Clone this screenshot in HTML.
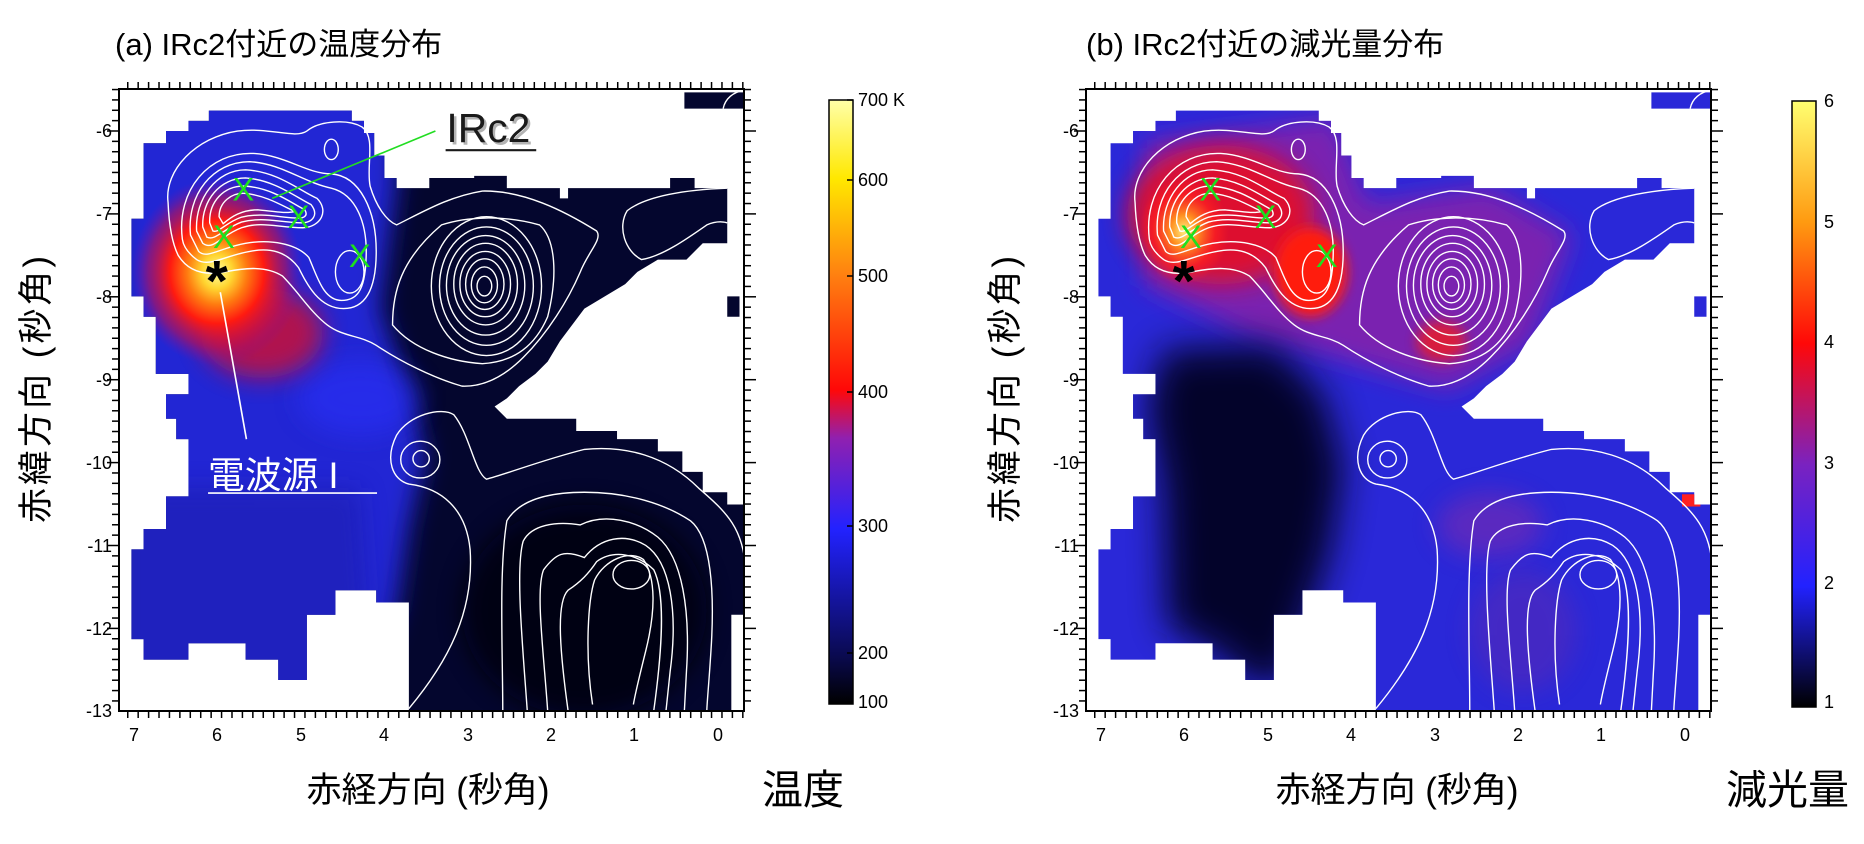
<!DOCTYPE html>
<html><head><meta charset="utf-8"><style>
html,body{margin:0;padding:0;background:#fff;}
svg{display:block;}
text{font-family:"Liberation Sans","Noto Sans CJK JP",sans-serif;}
</style></head><body>
<svg id="s" width="1864" height="844" viewBox="0 0 1864 844" xmlns="http://www.w3.org/2000/svg">
<defs>
<clipPath id="mask"><polygon points="70,155 125,155 125,125 180,125 180,100 230,100 230,75 580,75 580,100 610,100 610,130 635,130 635,185 660,185 660,240 690,240 690,265 770,265 770,240 880,240 880,235 960,235 960,265 1090,265 1090,290 1110,290 1110,265 1360,265 1360,240 1420,240 1420,265 1500,265 1500,400 1440,400 1400,440 1330,440 1280,470 1250,500 1200,530 1150,560 1120,600 1090,640 1060,690 1030,720 990,750 960,780 930,800 960,830 1130,830 1130,860 1230,860 1230,880 1330,880 1330,910 1390,910 1390,960 1440,960 1440,1010 1500,1010 1500,1040 1540,1040 1540,1310 1510,1310 1510,1545 720,1545 720,1280 640,1280 640,1250 540,1250 540,1310 470,1310 470,1470 400,1470 400,1420 320,1420 320,1380 180,1380 180,1420 70,1420 70,1370 40,1370 40,1150 70,1150 70,1100 125,1100 125,1020 180,1020 180,880 150,880 150,830 125,830 125,770 180,770 180,720 100,720 100,580 70,580 70,530 40,530 40,340 70,340"/>
<rect x="1395" y="30" width="145" height="40"/><rect x="1500" y="530" width="30" height="50"/></clipPath>
<filter id="b30" x="-50%" y="-50%" width="200%" height="200%"><feGaussianBlur stdDeviation="30"/></filter>
<filter id="b45" x="-50%" y="-50%" width="200%" height="200%"><feGaussianBlur stdDeviation="45"/></filter>
<filter id="b15" x="-50%" y="-50%" width="200%" height="200%"><feGaussianBlur stdDeviation="15"/></filter>
<radialGradient id="hot" cx="0.5" cy="0.5" r="0.5">
<stop offset="0" stop-color="#ffffa0"/><stop offset="0.18" stop-color="#ffd530"/><stop offset="0.35" stop-color="#ff7a10"/><stop offset="0.55" stop-color="#ff1a10"/><stop offset="0.8" stop-color="#c01050" stop-opacity="0.6"/><stop offset="1" stop-color="#8010a0" stop-opacity="0"/></radialGradient>
<radialGradient id="hotb" cx="0.5" cy="0.5" r="0.5">
<stop offset="0" stop-color="#ffee80"/><stop offset="0.3" stop-color="#ff9020"/><stop offset="0.7" stop-color="#ff2020" stop-opacity="0.7"/><stop offset="1" stop-color="#ff2020" stop-opacity="0"/></radialGradient>
<linearGradient id="cba" x1="0" y1="1" x2="0" y2="0">
<stop offset="0" stop-color="#000000"/><stop offset="0.08" stop-color="#0a0a50"/><stop offset="0.29" stop-color="#2222ff"/><stop offset="0.44" stop-color="#9020b0"/><stop offset="0.52" stop-color="#ff0808"/><stop offset="0.71" stop-color="#ff8010"/><stop offset="0.87" stop-color="#ffe800"/><stop offset="1" stop-color="#ffffa8"/></linearGradient>
<linearGradient id="cbb" x1="0" y1="1" x2="0" y2="0">
<stop offset="0" stop-color="#000000"/><stop offset="0.2" stop-color="#2222ff"/><stop offset="0.4" stop-color="#7a22c0"/><stop offset="0.6" stop-color="#ff0808"/><stop offset="0.8" stop-color="#ff9a10"/><stop offset="1" stop-color="#ffff70"/></linearGradient>
<g id="contours" fill="none" stroke="#fff" stroke-width="3.4">
<path d="M130,300 C120,220 200,140 300,125 C380,115 440,145 470,125 C500,100 570,95 605,115 C640,140 615,210 625,260 C640,310 665,345 690,355 C760,320 820,285 900,272 C1000,270 1100,320 1180,370 C1195,390 1160,420 1140,470 C1110,540 1060,620 1000,680 C950,730 900,752 850,750 C780,730 700,690 640,650 C600,625 560,630 520,600 C480,570 450,520 410,480 C370,455 320,460 270,470 C220,480 180,470 155,430 C140,400 132,350 130,300Z"/>
<path d="M165,390 C150,270 230,175 340,180 C420,185 470,230 530,230 C600,235 640,320 640,420 C640,520 610,560 560,560 C500,560 470,500 450,460 C420,420 380,410 330,420 C270,430 230,460 200,440 C180,425 168,410 165,390Z"/>
<path d="M185,380 C175,280 240,200 330,200 C410,205 460,250 530,265 C590,280 620,350 615,440 C612,520 590,540 555,540 C510,540 495,480 475,435 C445,400 380,390 320,400 C260,410 225,440 205,420Z"/>
<path d="M200,370 C195,290 250,220 320,220 C400,225 450,270 495,290 C525,320 505,360 460,362 C400,362 360,345 310,362 C260,380 240,420 215,400Z"/>
<path d="M215,360 C212,295 258,240 320,240 C390,245 440,285 480,305 C500,330 485,350 455,350 C400,348 360,335 310,348 C265,365 245,395 225,385Z"/>
<path d="M232,350 C230,300 265,258 320,260 C385,265 430,300 465,318 C475,335 460,340 440,338 C395,335 355,325 310,336 C270,350 255,375 240,370Z"/>
<path d="M255,335 C255,300 285,275 320,278 C370,283 410,308 440,322 C420,328 390,322 350,318 C310,318 285,335 265,352Z"/>
<ellipse cx="575" cy="470" rx="35" ry="52"/>
<ellipse cx="530" cy="170" rx="17" ry="25"/>
<path d="M680,600 C680,520 700,440 800,355 C860,335 950,330 1040,355 C1080,390 1085,480 1060,580 C1030,650 980,690 900,695 C820,690 730,660 680,600Z"/>
<ellipse cx="910" cy="505" rx="135" ry="170"/>
<ellipse cx="910" cy="505" rx="115" ry="145"/>
<ellipse cx="908" cy="503" rx="96" ry="122"/>
<ellipse cx="908" cy="500" rx="78" ry="100"/>
<ellipse cx="907" cy="500" rx="62" ry="80"/>
<ellipse cx="906" cy="500" rx="47" ry="62"/>
<ellipse cx="905" cy="502" rx="32" ry="44"/>
<ellipse cx="905" cy="505" rx="18" ry="24"/>
<path d="M1500,265 C1400,268 1300,285 1255,320 C1230,360 1250,420 1290,440 C1340,432 1400,390 1450,355 C1480,342 1500,350 1500,350"/>
<path d="M1490,70 C1495,45 1515,30 1540,25"/>
<path d="M720,1540 C820,1420 880,1300 870,1150 C860,1050 800,1000 720,990 C680,980 660,930 690,870 C720,820 800,800 830,820 C870,870 880,960 910,978 C960,965 1050,930 1150,905 C1250,895 1350,920 1430,1000 C1500,1060 1540,1100 1545,1200"/>
<ellipse cx="748" cy="930" rx="48" ry="45"/>
<ellipse cx="750" cy="928" rx="20" ry="20"/>
<path d="M950,1545 C950,1400 940,1200 960,1080 C990,1030 1060,1010 1150,1010 C1260,1010 1350,1040 1410,1080 C1460,1120 1470,1250 1460,1400 C1455,1480 1450,1530 1450,1545"/>
<path d="M1010,1545 C1000,1400 980,1200 1000,1130 C1020,1090 1080,1080 1140,1090 C1200,1060 1280,1080 1330,1120 C1390,1170 1410,1300 1400,1450 L1395,1545"/>
<path d="M1060,1545 C1050,1400 1030,1250 1050,1200 C1080,1160 1100,1150 1150,1170 C1190,1120 1250,1110 1300,1140 C1360,1180 1380,1300 1360,1450 L1350,1545"/>
<path d="M1110,1545 C1090,1400 1080,1280 1110,1250 C1140,1230 1160,1210 1180,1180 C1220,1150 1280,1160 1320,1200 C1350,1260 1340,1400 1320,1545"/>
<path d="M1170,1530 C1150,1400 1160,1270 1175,1225 C1200,1175 1260,1150 1295,1175 C1325,1220 1325,1300 1300,1400 C1285,1460 1275,1500 1270,1530"/>
<ellipse cx="1265" cy="1212" rx="45" ry="35"/>
</g>
<g id="marks">
<text x="288" y="295" font-size="80" fill="#1ee01e">X</text>
<text x="423" y="362" font-size="80" fill="#1ee01e">X</text>
<text x="240" y="412" font-size="80" fill="#1ee01e">X</text>
<text x="573" y="458" font-size="80" fill="#1ee01e">X</text>
<text x="222" y="540" font-size="140" font-weight="bold" fill="#000">*</text>
</g>
</defs>

<text x="115" y="55" font-size="31">(a) IRc2付近の温度分布</text>
<text x="1086" y="55" font-size="31">(b) IRc2付近の減光量分布</text>

<g transform="translate(115,80) scale(0.408163)">
<g clip-path="url(#mask)">
<rect x="0" y="0" width="1568" height="1568" fill="#04062e"/>
<polygon points="0,0 690,0 690,260 650,560 720,760 760,920 720,1100 690,1300 560,1600 0,1600" fill="#2326d4" filter="url(#b30)"/>
<polygon points="0,1000 600,1000 620,1300 500,1600 0,1600" fill="#1a1ca8" opacity="0.5" filter="url(#b30)"/>
<ellipse cx="600" cy="780" rx="150" ry="90" fill="#2a30ff" opacity="0.5" filter="url(#b30)"/>
<ellipse cx="1150" cy="1300" rx="300" ry="260" fill="#000008" opacity="0.8" filter="url(#b30)"/>
<ellipse cx="360" cy="620" rx="150" ry="110" fill="#e01020" opacity="0.75" filter="url(#b30)"/>
<ellipse cx="250" cy="470" rx="210" ry="230" fill="url(#hot)"/>
</g>
<use href="#contours"/>
<line x1="785" y1="125" x2="385" y2="290" stroke="#22dd22" stroke-width="4"/>
<line x1="258" y1="520" x2="322" y2="880" stroke="#fff" stroke-width="4"/>
<use href="#marks"/>
<text x="818" y="158" font-size="100" fill="#444" opacity="0.4">IRc2</text>
<text x="812" y="152" font-size="100" fill="#1a1a1a">IRc2</text>
<line x1="810" y1="172" x2="1032" y2="172" stroke="#1a1a1a" stroke-width="5"/>
<text x="228" y="1000" font-size="90" fill="#fff">電波源 I</text>
<line x1="228" y1="1012" x2="642" y2="1012" stroke="#fff" stroke-width="4"/>
</g>

<g transform="translate(1082,80) scale(0.408163)">
<g clip-path="url(#mask)">
<rect x="0" y="0" width="1568" height="1568" fill="#2a28d8"/>
<polygon points="150,150 620,90 700,300 1000,260 1200,380 1100,650 900,760 620,680 400,620 150,500" fill="#7a22b0" filter="url(#b30)"/>
<ellipse cx="340" cy="330" rx="230" ry="170" fill="#e81020" opacity="0.9" filter="url(#b30)"/>
<ellipse cx="560" cy="470" rx="90" ry="110" fill="#ff1a10" filter="url(#b15)"/>
<ellipse cx="880" cy="640" rx="60" ry="50" fill="#ff1a10" opacity="0.7" filter="url(#b15)"/>
<ellipse cx="250" cy="370" rx="110" ry="130" fill="url(#hotb)"/>
<polygon points="200,660 470,650 590,770 640,950 610,1150 560,1300 500,1480 420,1480 330,1400 210,1340 200,1000 160,800" fill="#03031e" opacity="0.92" filter="url(#b45)"/>
<ellipse cx="1000" cy="1090" rx="130" ry="80" fill="#8a2aa8" opacity="0.5" filter="url(#b30)"/>
<ellipse cx="1080" cy="1350" rx="130" ry="150" fill="#6a2aa8" opacity="0.4" filter="url(#b30)"/>
<rect x="1470" y="1015" width="45" height="30" fill="#ff2020"/>
</g>
<use href="#contours"/>
<use href="#marks"/>
</g>

<rect x="119" y="89" width="625" height="622" fill="none" stroke="#000" stroke-width="2"/>
<rect x="1086" y="89" width="625" height="622" fill="none" stroke="#000" stroke-width="2"/>
<g id="ticks" stroke="#000" stroke-width="1.5"></g>

<g font-size="18" text-anchor="end">
<text x="112" y="137">-6</text><text x="112" y="220">-7</text><text x="112" y="303">-8</text><text x="112" y="386">-9</text><text x="112" y="469">-10</text><text x="112" y="552">-11</text><text x="112" y="635">-12</text><text x="112" y="717">-13</text>
<text x="1079" y="137">-6</text><text x="1079" y="220">-7</text><text x="1079" y="303">-8</text><text x="1079" y="386">-9</text><text x="1079" y="469">-10</text><text x="1079" y="552">-11</text><text x="1079" y="635">-12</text><text x="1079" y="717">-13</text>
</g>
<g font-size="18" text-anchor="middle">
<text x="134" y="741">7</text><text x="217" y="741">6</text><text x="301" y="741">5</text><text x="384" y="741">4</text><text x="468" y="741">3</text><text x="551" y="741">2</text><text x="634" y="741">1</text><text x="718" y="741">0</text>
<text x="1101" y="741">7</text><text x="1184" y="741">6</text><text x="1268" y="741">5</text><text x="1351" y="741">4</text><text x="1435" y="741">3</text><text x="1518" y="741">2</text><text x="1601" y="741">1</text><text x="1685" y="741">0</text>
</g>
<text x="428" y="802" font-size="35" text-anchor="middle">赤経方向 (秒角)</text>
<text x="1397" y="802" font-size="35" text-anchor="middle">赤経方向 (秒角)</text>
<text transform="translate(48,388) rotate(-90)" font-size="35" letter-spacing="3" text-anchor="middle">赤緯方向 (秒角)</text>
<text transform="translate(1017,388) rotate(-90)" font-size="35" letter-spacing="3" text-anchor="middle">赤緯方向 (秒角)</text>
<text x="762" y="804" font-size="41">温度</text>
<text x="1726" y="804" font-size="41">減光量</text>

<rect x="829" y="100" width="24" height="604" fill="url(#cba)" stroke="#000" stroke-width="1.5"/>
<g stroke="#000" stroke-width="1.5">
<line x1="847" y1="100" x2="853" y2="100"/><line x1="847" y1="180" x2="853" y2="180"/><line x1="847" y1="276" x2="853" y2="276"/><line x1="847" y1="392" x2="853" y2="392"/><line x1="847" y1="526" x2="853" y2="526"/><line x1="847" y1="653" x2="853" y2="653"/><line x1="847" y1="702" x2="853" y2="702"/>
<line x1="1810" y1="222" x2="1816" y2="222"/><line x1="1810" y1="342" x2="1816" y2="342"/><line x1="1810" y1="463" x2="1816" y2="463"/><line x1="1810" y1="583" x2="1816" y2="583"/>
</g>
<g font-size="18">
<text x="858" y="106">700 K</text><text x="858" y="186">600</text><text x="858" y="282">500</text><text x="858" y="398">400</text><text x="858" y="532">300</text><text x="858" y="659">200</text><text x="858" y="708">100</text>
</g>
<rect x="1792" y="101" width="24" height="606" fill="url(#cbb)" stroke="#000" stroke-width="1.5"/>
<g font-size="18">
<text x="1824" y="107">6</text><text x="1824" y="228">5</text><text x="1824" y="348">4</text><text x="1824" y="469">3</text><text x="1824" y="589">2</text><text x="1824" y="708">1</text>
</g>
</svg>
<script>
(function(){
var g=document.getElementById('ticks'),ns='http://www.w3.org/2000/svg';
function L(a,b,c,d){var l=document.createElementNS(ns,'line');l.setAttribute('x1',a);l.setAttribute('y1',b);l.setAttribute('x2',c);l.setAttribute('y2',d);g.appendChild(l);}
[0,967].forEach(function(o){
 for(var k=-3;k<=60;k++){var ra=7.2-k*0.125;var x=134+(7-ra)*83.4+o;if(x<119+o||x>744+o)continue;var maj=Math.abs(ra-Math.round(ra))<1e-6;var t=maj?12:7;L(x,89,x,89-t);L(x,711,x,711+t);}
 for(var k=-10;k<=70;k++){var dec=-5.5-k*0.125;var y=131+(-6-dec)*82.9;if(y<89||y>711)continue;var maj=Math.abs(dec-Math.round(dec))<1e-6;var t=maj?12:7;L(119+o,y,119+o-t,y);L(744+o,y,744+o+t,y);}
});
})();
</script>
</body></html>
